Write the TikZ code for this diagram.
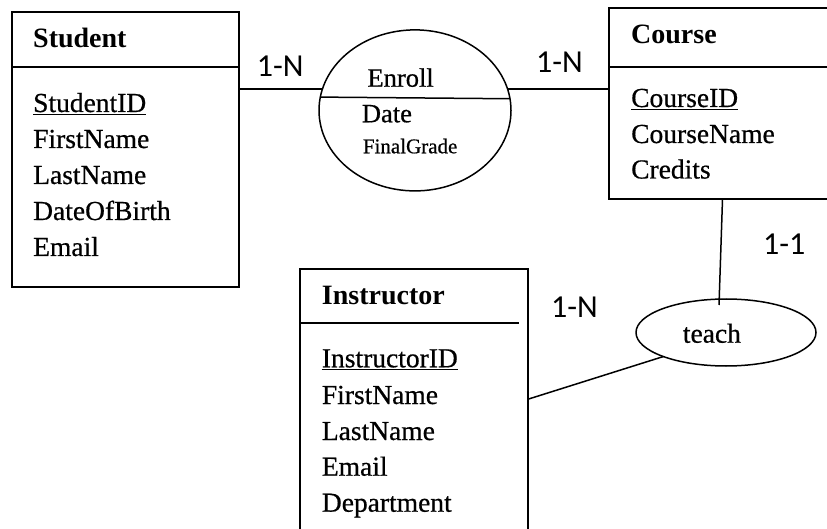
\documentclass[tikz,border=0pt]{standalone}
\usepackage{fontspec}
\setmainfont[FakeBold=0.6,BoldFeatures={FakeBold=0}]{Liberation Serif}
\newfontfamily\calfont{Carlito}
\usetikzlibrary{shapes.geometric}
\begin{document}
\begin{tikzpicture}[x=1pt,y=-1pt,
  box/.style={draw,line width=1.7pt,rectangle,inner sep=0pt,outer sep=0pt,anchor=north west},
  rel/.style={draw,line width=1.5pt,ellipse,inner sep=0pt,outer sep=0pt},
  conn/.style={line width=1.5pt},
  hdr/.style={line width=1.7pt},
  attr/.style={anchor=base west,inner sep=0pt,font=\fontsize{27.5}{33}\selectfont},
  rattr/.style={anchor=base west,inner sep=0pt,font=\fontsize{26.5}{31}\selectfont},
  small/.style={anchor=base west,inner sep=0pt,font=\fontsize{21}{24}\selectfont},
  ttl/.style={anchor=base west,inner sep=0pt,font=\fontsize{28}{33}\selectfont\bfseries},
  card/.style={anchor=base west,inner sep=0pt,font=\calfont\fontsize{32}{38}\selectfont},
  keyline/.style={line width=1.2pt}]
\useasboundingbox (0,0) rectangle (827,529);
\clip (0,0) rectangle (827,529);

% Student entity
\node[box,minimum width=226.7pt,minimum height=275.3pt] (student) at (12,12) {};
\draw[hdr] (student.west |- 0,67) -- (student.east |- 0,67);
\node[ttl] (st) at (33,48) {Student};
\node[attr] (s1) at (33,112) {StudentID};
\node[attr] (s2) at (33,148) {FirstName};
\node[attr] (s3) at (33,184) {LastName};
\node[attr] (s4) at (33,220) {DateOfBirth};
\node[attr] (s5) at (33,256) {Email};
\draw[keyline] ([yshift=-2.5pt]s1.base west) -- ([yshift=-2.5pt]s1.base east);

% Course entity
\node[box,minimum width=230pt,minimum height=191pt] (course) at (609,8.3) {};
\draw[hdr] (course.west |- 0,66.7) -- (course.east |- 0,66.7);
\node[ttl] (ct) at (631,44) {Course};
\node[attr] (c1) at (631,107) {CourseID};
\node[attr] (c2) at (631,143) {CourseName};
\node[attr] (c3) at (631,178.5) {Credits};
\draw[keyline] ([yshift=-2.5pt]c1.base west) -- ([yshift=-2.5pt]c1.base east);

% Instructor entity
\node[box,minimum width=227.7pt,minimum height=300pt] (instr) at (300,269.3) {};
\draw[hdr] (instr.west |- 0,322.7) -- ([xshift=-9pt]instr.east |- 0,322.7);
\node[ttl] (it) at (321.7,305) {Instructor};
\node[attr] (i1) at (321.7,367.3) {InstructorID};
\node[attr] (i2) at (321.7,404) {FirstName};
\node[attr] (i3) at (321.7,440) {LastName};
\node[attr] (i4) at (321.7,475.7) {Email};
\node[attr] (i5) at (321.7,511.7) {Department};
\draw[keyline] ([yshift=-2.5pt]i1.base west) -- ([yshift=-2.5pt]i1.base east);

% Enroll relationship
\node[rel,minimum width=192pt,minimum height=161pt] (enroll) at (415,110.4) {};
\draw[conn] (enroll.172) -- (enroll.7);
\node[rattr] (en) at (367.3,86.7) {Enroll};
\node[rattr] (ed) at (361.7,122.3) {Date};
\node[small] (eg) at (362.7,153.3) {FinalGrade};

% teach relationship
\node[rel,minimum width=180pt,minimum height=67pt] (teach) at (726,332.5) {};
\node[attr] (tt) at (682.7,342.7) {teach};

% connectors
\draw[conn] (student.east |- enroll.167.6) -- (enroll.167.6);
\draw[conn] (enroll.13.7) -- (course.west |- enroll.13.7);
\draw[conn] ([xshift=-1.5pt]course.south) -- ([xshift=-7pt,yshift=-6pt]teach.north);
\draw[conn] ([yshift=-130pt]instr.north east) -- (teach.201);

% cardinalities
\node[card] (k1) at (256.7,76.7) {1-N};
\node[card] (k2) at (536,73) {1-N};
\node[card] (k3) at (763,255) {1-1};
\node[card] (k4) at (551,317.7) {1-N};
\end{tikzpicture}
\end{document}
